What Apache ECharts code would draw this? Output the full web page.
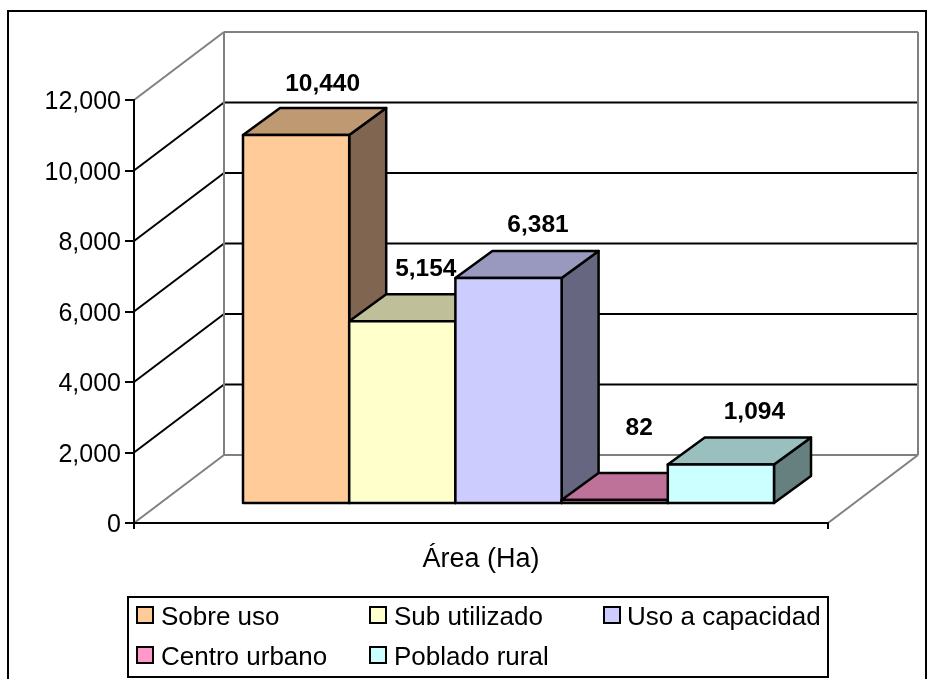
<!DOCTYPE html>
<html>
<head>
<meta charset="utf-8">
<title>Área (Ha)</title>
<script src="https://cdn.jsdelivr.net/npm/echarts@6/dist/echarts.min.js"></script>
<style>
html, body { margin: 0; padding: 0; background: #fff; }
#chart { width: 936px; height: 679px; }
</style>
</head>
<body>
<div id="chart"></div>
<script>
var categories = ['Área (Ha)'];
var seriesNames = ['Sobre uso', 'Sub utilizado', 'Uso a capacidad', 'Centro urbano', 'Poblado rural'];
var seriesValues = [10440, 5154, 6381, 82, 1094];
var yTicks = [0, 2000, 4000, 6000, 8000, 10000, 12000];

var colors = ['#FFCC99', '#FFFFCC', '#CCCCFF', '#FF99CC', '#CCFFFF'];
var topColors = ['#BF9972', '#BFBF99', '#9999BF', '#BF7299', '#99BFBF'];
var sideColors = ['#806650', '#808066', '#666680', '#804D66', '#668080'];

var FONT = '"Liberation Sans", Arial, sans-serif';

// projection of the chart box, in px
var WALL_DX = 90, WALL_DY = 68;
var BAR_DX = 37, BAR_DY = 27;   // depth of a bar
var FLOOR_DX = 27.5, FLOOR_DY = 20; // where the bars stand on the floor
var BAR_GAP = 81.5;

// label nudges
var labelDx = [8, 5, 11, 6, 15];
var labelDy = [24, 25, 26, 45, 25];

// legend slots
var legendLeft = [136, 369, 603, 136, 369];
var legendTop = [605, 605, 605, 645, 645];
var legendGap = [3, 3, 2, 3, 3];

var chart = echarts.init(document.getElementById('chart'));

function grayLine(x1, y1, x2, y2) {
    return {type: 'line', shape: {x1: x1, y1: y1, x2: x2, y2: y2},
            style: {stroke: '#808080', lineWidth: 2}};
}
function blackLine(x1, y1, x2, y2) {
    return {type: 'line', shape: {x1: x1, y1: y1, x2: x2, y2: y2},
            style: {stroke: '#000', lineWidth: 2}};
}

// back wall, side wall and floor, one item per y tick
function renderWall(params, api) {
    var v = api.value(1);
    var p = api.coord([0, v]);
    var band = api.size([1, 0])[0];
    var x0 = p[0] - band / 2, x1 = p[0] + band / 2, y = p[1];
    var last = yTicks[yTicks.length - 1];
    var line = (v === yTicks[0] || v === last) ? grayLine : blackLine;
    var children = [
        line(x0 + WALL_DX, y - WALL_DY, x1 + WALL_DX, y - WALL_DY),
        line(x0, y, x0 + WALL_DX, y - WALL_DY)
    ];
    if (v === last) {
        var base = api.coord([0, yTicks[0]])[1];
        children.push(grayLine(x0 + WALL_DX, y - WALL_DY, x0 + WALL_DX, base - WALL_DY));
        children.push(grayLine(x1 + WALL_DX, y - WALL_DY, x1 + WALL_DX, base - WALL_DY));
        children.push(grayLine(x1, base, x1 + WALL_DX, base - WALL_DY));
    }
    return {type: 'group', children: children};
}

function boxRenderer(i) {
    return function (params, api) {
        var base = api.coord([0, 0]);
        var head = api.coord([0, api.value(1)]);
        var band = api.size([1, 0])[0];
        var w = (band - 2 * BAR_GAP) / seriesNames.length;
        var x = base[0] - band / 2 + FLOOR_DX + BAR_GAP + i * w;
        var y0 = base[1] - FLOOR_DY;
        var y1 = head[1] - FLOOR_DY;
        var stroke = {stroke: '#000', lineWidth: 2.5, lineJoin: 'round'};
        return {type: 'group', children: [
            {type: 'polygon',
             shape: {points: [[x + w, y0], [x + w + BAR_DX, y0 - BAR_DY], [x + w + BAR_DX, y1 - BAR_DY], [x + w, y1]]},
             style: Object.assign({fill: sideColors[i]}, stroke)},
            {type: 'polygon',
             shape: {points: [[x, y1], [x + BAR_DX, y1 - BAR_DY], [x + w + BAR_DX, y1 - BAR_DY], [x + w, y1]]},
             style: Object.assign({fill: topColors[i]}, stroke)},
            {type: 'rect',
             shape: {x: x, y: y1, width: w, height: y0 - y1},
             style: Object.assign({fill: colors[i]}, stroke)},
            {type: 'text', z2: 50,
             style: {text: echarts.format.addCommas(api.value(1)),
                     x: x + w / 2 + BAR_DX / 2 + labelDx[i],
                     y: y1 - BAR_DY - labelDy[i],
                     align: 'center', verticalAlign: 'middle',
                     font: 'bold 24.5px ' + FONT, fill: '#000'}}
        ]};
    };
}

var series = [{
    type: 'custom',
    name: 'walls',
    silent: true,
    z: 3,
    clip: false,
    encode: {x: 0, y: 1},
    renderItem: renderWall,
    data: yTicks.map(function (t) { return [0, t]; })
}];

seriesNames.forEach(function (name, i) {
    series.push({
        type: 'custom',
        name: name,
        z: 4 + i,
        clip: false,
        encode: {x: 0, y: 1},
        itemStyle: {color: colors[i]},
        renderItem: boxRenderer(i),
        data: [[0, seriesValues[i]]]
    });
});

var legends = seriesNames.map(function (name, i) {
    return {
        data: [name],
        left: legendLeft[i],
        top: legendTop[i],
        padding: 0,
        itemWidth: 16,
        itemHeight: 16,
        icon: 'rect',
        itemStyle: {borderColor: '#000', borderWidth: 2},
        formatter: function (n) { return '{a|' + n + '}'; },
        textStyle: {
            fontFamily: FONT, fontSize: 26, color: '#000', padding: [0, 0, 0, legendGap[i]],
            rich: {a: {fontFamily: FONT, fontSize: 26, color: '#000', padding: [6, 0, 0, 0]}}
        }
    };
});

var option = {
    animation: false,
    backgroundColor: '#fff',
    textStyle: {fontFamily: FONT},
    grid: {left: 134, right: 108, top: 100, bottom: 156},
    xAxis: {
        type: 'category',
        data: categories,
        z: 20,
        axisLine: {show: true, onZero: false, lineStyle: {color: '#000', width: 2}},
        axisTick: {show: true, length: 6, lineStyle: {color: '#000', width: 2}},
        axisLabel: {color: '#000', fontFamily: FONT, fontSize: 27, margin: 23}
    },
    yAxis: {
        type: 'value',
        min: 0,
        max: 12000,
        interval: 2000,
        z: 20,
        axisLine: {show: true, lineStyle: {color: '#000', width: 2}},
        axisTick: {show: true, length: 9, lineStyle: {color: '#000', width: 2}},
        splitLine: {show: false},
        axisLabel: {
            color: '#000', fontFamily: FONT, fontSize: 25, margin: 13,
            formatter: function (v) { return '{a|' + echarts.format.addCommas(v) + '}'; },
            rich: {a: {fontFamily: FONT, fontSize: 25, color: '#000', padding: [5, 0, 0, 0]}}
        }
    },
    legend: legends,
    graphic: [
        {type: 'rect', silent: true, z: -1,
         shape: {x: 8, y: 11, width: 918, height: 680},
         style: {fill: 'none', stroke: '#000', lineWidth: 2}},
        {type: 'rect', silent: true, z: -1,
         shape: {x: 128, y: 597, width: 700, height: 80},
         style: {fill: '#fff', stroke: '#000', lineWidth: 2}}
    ],
    series: series
};

chart.setOption(option);
</script>
</body>
</html>
